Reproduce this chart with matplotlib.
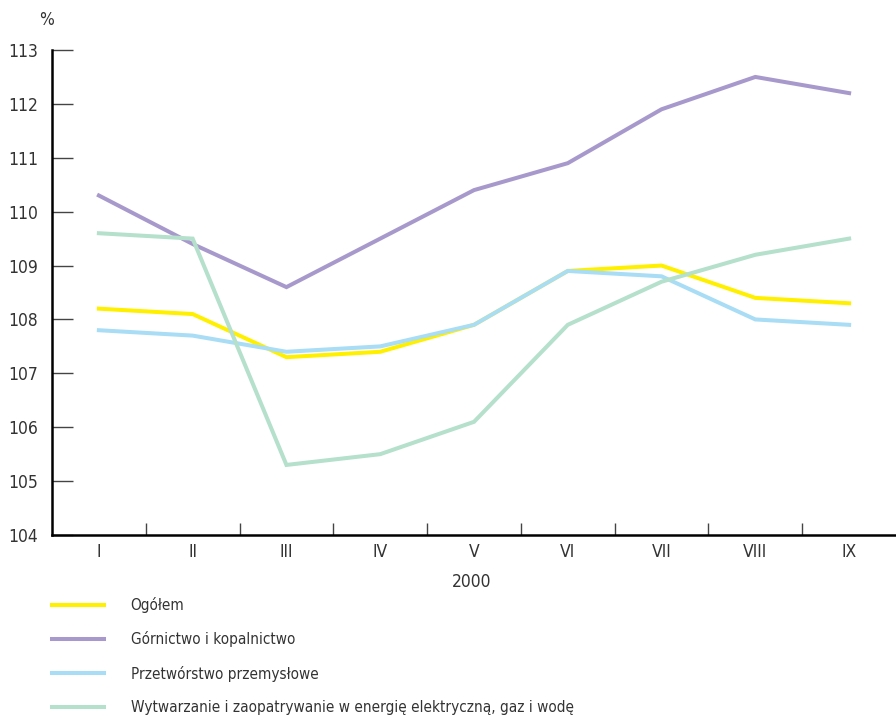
import matplotlib
matplotlib.use("Agg")
import matplotlib.pyplot as plt
from matplotlib.ticker import FixedLocator

plt.rcParams["font.family"] = ["DejaVu Sans"]
plt.rcParams["font.stretch"] = "condensed"

months = ["I", "II", "III", "IV", "V", "VI", "VII", "VIII", "IX"]
ogolem = [108.2, 108.1, 107.3, 107.4, 107.9, 108.9, 109.0, 108.4, 108.3]
gornictwo = [110.3, 109.4, 108.6, 109.5, 110.4, 110.9, 111.9, 112.5, 112.2]
przetworstwo = [107.8, 107.7, 107.4, 107.5, 107.9, 108.9, 108.8, 108.0, 107.9]
wytwarzanie = [109.6, 109.5, 105.3, 105.5, 106.1, 107.9, 108.7, 109.2, 109.5]
yticks = [104, 105, 106, 107, 108, 109, 110, 111, 112, 113]

series = [
    ("Ogółem", ogolem, "#FFF000"),
    ("Górnictwo i kopalnictwo", gornictwo, "#A899CC"),
    ("Przetwórstwo przemysłowe", przetworstwo, "#A8DDF5"),
    ("Wytwarzanie i zaopatrywanie w energię elektryczną, gaz i wodę", wytwarzanie, "#B5E0CB"),
]

fig = plt.figure(figsize=(8.96, 7.16), dpi=100)
ax = fig.add_axes([52 / 896, 1 - 535 / 716, 1 - 52 / 896, (535 - 50) / 716])

x = list(range(len(months)))
handles = []
for label, vals, col in series:
    (h,) = ax.plot(x, vals, color=col, lw=2.9, label=label, solid_joinstyle="miter")
    handles.append(h)

ax.set_xlim(-0.5, len(months) - 0.5)
ax.set_ylim(104, 113)
ax.spines["top"].set_visible(False)
ax.spines["right"].set_visible(False)
ax.spines["left"].set_linewidth(1.8)
ax.spines["bottom"].set_linewidth(1.8)

ax.set_xticks(x)
ax.set_xticklabels(months)
ax.xaxis.set_minor_locator(FixedLocator([i + 0.5 for i in range(len(months) - 1)]))
ax.tick_params(axis="x", which="major", length=0, pad=6, labelsize=12.5, labelcolor="#333333")
ax.tick_params(axis="x", which="minor", direction="in", length=9, width=1, color="#444444")
ax.set_yticks(yticks)
ax.tick_params(axis="y", direction="in", length=15, width=1, pad=10, labelsize=12.5,
               color="#444444", labelcolor="#333333")

fig.text(47 / 896, 1 - 20 / 716, "%", ha="center", va="center", fontsize=12.5, color="#333333")
fig.text(472 / 896, 1 - 582 / 716, "2000", ha="center", va="center", fontsize=12.5, color="#333333")

fig.legend(handles=handles, loc="upper left", bbox_to_anchor=(52 / 896, 1 - 597 / 716),
           frameon=False, fontsize=11, handlelength=3.4, handletextpad=1.75,
           labelspacing=1.2, borderpad=0, borderaxespad=0, labelcolor="#333333")

fig.savefig("out.png", dpi=100)
